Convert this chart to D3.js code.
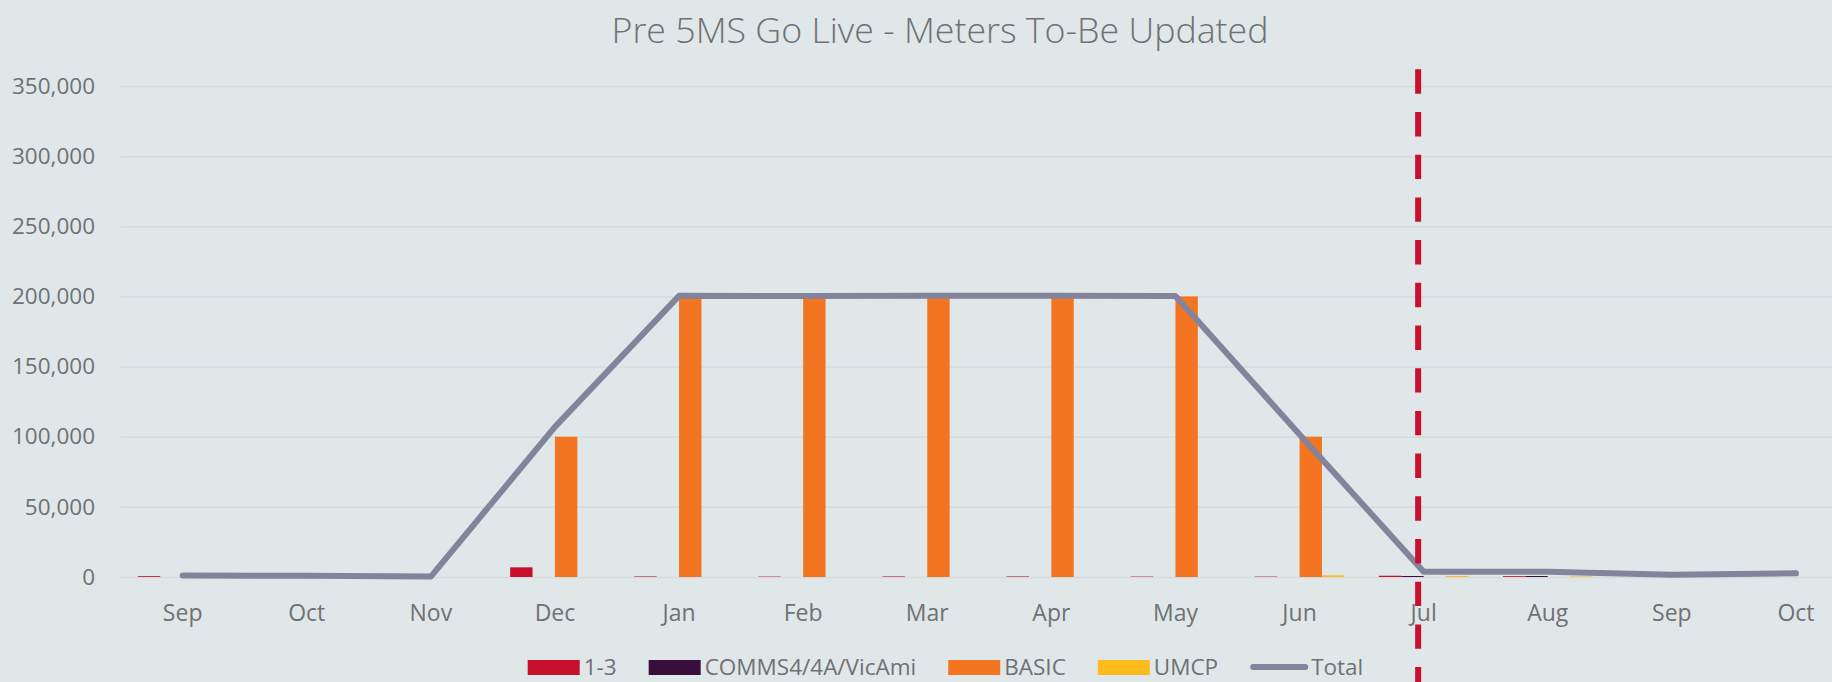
<!DOCTYPE html>
<html>
<head>
<meta charset="utf-8">
<script src="https://cdn.jsdelivr.net/npm/d3@7"></script>
<style>
  html, body { margin: 0; padding: 0; background: #e0e7e9; }
  svg { display: block; }
  text { font-family: "Open Sans", "Noto Sans", sans-serif; fill: #6f7173; }
</style>
</head>
<body>
<svg id="chart" width="1832" height="682"></svg>
<script>
// ---- data ----
const months = ["Sep","Oct","Nov","Dec","Jan","Feb","Mar","Apr","May","Jun","Jul","Aug","Sep","Oct"];
const seriesNames = ["1-3","COMMS4/4A/VicAmi","BASIC","UMCP"];
const s13   = [600, 0, 0, 6900, 400, 300, 400, 400, 300, 300, 900, 600, 0, 0];
const comms = [0, 0, 0, 0, 0, 0, 0, 0, 0, 0, 700, 700, 0, 0];
const basic = [0, 0, 0, 100000, 200000, 200000, 200000, 200000, 200000, 100000, 0, 0, 0, 0];
const umcp  = [0, 0, 0, 0, 0, 0, 0, 0, 0, 1200, 800, 400, 0, 0];
const total = [1000, 900, 300, 107000, 200400, 200300, 200400, 200400, 200300, 101500, 3800, 3800, 1600, 2600];
const yTicks = [0, 50000, 100000, 150000, 200000, 250000, 300000, 350000];
const goLiveIndex = 10; // Jul
const titleText = "Pre 5MS Go Live - Meters To-Be Updated";

// ---- style ----
const colors = {"1-3":"#c8102e","COMMS4/4A/VicAmi":"#380e3c","BASIC":"#f37521","UMCP":"#fdbb1e"};
const lineColor = "#83849b";
const gridColor = "#d5dadc";

const svg = d3.select("#chart");
const W = 1832, H = 682;
const plotLeft = 120.6, step = 124.1;
const x0 = d3.scaleBand().domain(d3.range(months.length))
  .range([plotLeft, plotLeft + step * months.length]).padding(0);
const bw = x0.bandwidth();
const x1 = d3.scaleBand().domain(seriesNames).range([bw * 0.139, bw * 0.861]).padding(0);
const y = d3.scaleLinear().domain([0, 350000]).range([577, 86]);

// gridlines
svg.append("g")
  .attr("transform", `translate(${plotLeft},0)`)
  .call(d3.axisLeft(y).tickValues(yTicks).tickSize(-(W - plotLeft)).tickFormat(""))
  .call(g => g.select(".domain").remove())
  .call(g => g.selectAll("line").attr("stroke", gridColor).attr("stroke-width", 1.5));

// y labels
svg.append("g")
  .attr("transform", `translate(${plotLeft},0)`)
  .call(d3.axisLeft(y).tickValues(yTicks).tickSize(0).tickPadding(25.6).tickFormat(d3.format(",")))
  .call(g => g.select(".domain").remove())
  .call(g => g.selectAll("text").style("font-size", "22.5px").attr("fill", "#727476").style("font-family", "\"Open Sans\", sans-serif"));

// x labels
svg.append("g")
  .attr("transform", `translate(0,${y(0)})`)
  .call(d3.axisBottom(x0).tickSize(0).tickPadding(28).tickFormat(i => months[i]))
  .call(g => g.select(".domain").remove())
  .call(g => g.selectAll("text").style("font-size", "23px").attr("fill", "#727476").style("font-family", "\"Open Sans\", sans-serif"));

// bars
const seriesData = {"1-3": s13, "COMMS4/4A/VicAmi": comms, "BASIC": basic, "UMCP": umcp};
const groups = svg.append("g").selectAll("g")
  .data(d3.range(months.length)).join("g")
  .attr("transform", i => `translate(${x0(i)},0)`);
groups.selectAll("rect")
  .data(i => seriesNames.map(n => ({n, v: seriesData[n][i]})))
  .join("rect")
  .attr("x", d => x1(d.n))
  .attr("width", x1.bandwidth())
  .attr("y", d => y(d.v))
  .attr("height", d => y(0) - y(d.v))
  .attr("fill", d => colors[d.n]);

// total line
svg.append("path")
  .datum(total)
  .attr("fill", "none")
  .attr("stroke", lineColor)
  .attr("stroke-width", 6)
  .attr("stroke-linecap", "round")
  .attr("stroke-linejoin", "round")
  .attr("d", d3.line().x((d, i) => x0(i) + bw / 2).y(d => y(d)));

// go-live dashed marker
const gx = x0(goLiveIndex) + bw / 2 - 5.5;
svg.append("line")
  .attr("x1", gx).attr("x2", gx)
  .attr("y1", 69.3).attr("y2", H)
  .attr("stroke", "#c8102e")
  .attr("stroke-width", 6)
  .attr("stroke-dasharray", "24.4 18.3");

// title
const title = svg.append("text")
  .attr("x", 940).attr("y", 43.3)
  .attr("text-anchor", "middle")
  .style("font-size", "34px")
  .style("font-weight", 300)
  .attr("fill", "#6f7173")
  .text(titleText);
const tw = title.node().getComputedTextLength();
if (Math.abs(tw - 657) > 4) title.attr("textLength", 657).attr("lengthAdjust", "spacingAndGlyphs");

// legend
const legendItems = seriesNames.map(n => ({n, type: "rect"})).concat([{n: "Total", type: "line"}]);
const leg = svg.append("g");
const swW = 52, swH = 15, txtGap = 4, itemGap = 32, legBase = 675;
const items = leg.selectAll("g").data(legendItems).join("g");
items.each(function(d) {
  const g = d3.select(this);
  if (d.type === "rect") {
    g.append("rect").attr("x", 0).attr("y", legBase - swH).attr("width", swW).attr("height", swH).attr("fill", colors[d.n]);
  } else {
    g.append("line").attr("x1", 3).attr("x2", swW + 3).attr("y1", legBase - 8).attr("y2", legBase - 8)
      .attr("stroke", lineColor).attr("stroke-width", 6).attr("stroke-linecap", "round");
  }
  const t = g.append("text").attr("x", swW + txtGap + (d.type === "line" ? 5 : 0)).attr("y", legBase)
    .style("font-size", "22.5px").attr("fill", "#727476").text(d.n);
  d.w = swW + txtGap + (d.type === "line" ? 5 : 0) + t.node().getComputedTextLength();
});
const totalW = d3.sum(legendItems, d => d.w) + itemGap * (legendItems.length - 1);
let lx = 945.5 - totalW / 2;
items.attr("transform", d => { const t = `translate(${lx},0)`; lx += d.w + itemGap; return t; });
</script>
</body>
</html>
